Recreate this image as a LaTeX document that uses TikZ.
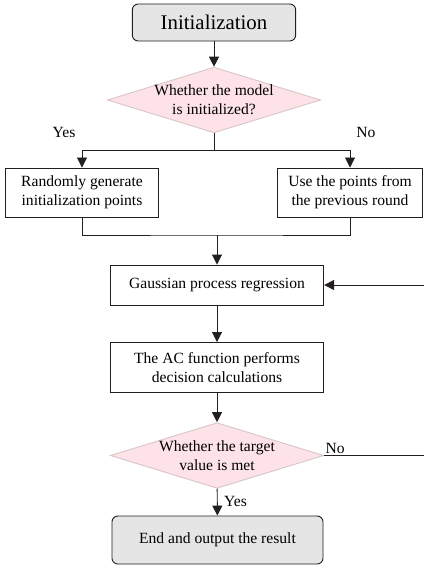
\documentclass[tikz,border=0pt]{standalone}
\usepackage{fontspec}
\setmainfont{Liberation Serif}
\usetikzlibrary{arrows.meta,shapes.geometric}

\definecolor{boxgray}{HTML}{E5E5E5}
\definecolor{decpink}{HTML}{FDE3E7}
\definecolor{decline}{HTML}{D8C6C9}
\definecolor{ink}{HTML}{231F20}

\begin{document}
\begin{tikzpicture}[x=0.03cm,y=-0.03cm,font=\fontsize{13.3}{16.5}\selectfont]
      \tikzset { step box/.style = { shape=rectangle,draw=ink,line width=0.8pt,align=center,inner sep=0pt } }
      \tikzset { term box/.style = { step box,rounded corners=5pt,fill=boxgray } }
      \tikzset { decision/.style = { shape=diamond,draw=decline,fill=decpink,line width=0.8pt,inner sep=0pt,minimum width=6.4cm,minimum height=1.97cm } }
      \tikzset { edge/.style = { -{Triangle[length=3mm,width=3mm]},draw=ink,line width=0.8pt } }
      \tikzset { link/.style = { draw=ink,line width=0.8pt } }

      \useasboundingbox (0,0) rectangle (423,565);

      \node[term box,minimum width=4.9cm,minimum height=1.11cm,font=\fontsize{17.8}{20}\selectfont] (init) at (214,22.5) {Initialization};
      \node[decision] (dec1) at (214,100) {};
      \node[align=center] (dec1txt) at (214,100) {Whether the model\\is initialized?};
      \node (yes1) at (64,132) {Yes};
      \node (no1) at (366,132) {No};
      \node[step box,minimum width=4.6cm,minimum height=1.47cm] (rand) at (82,192.5) {Randomly generate\\initialization points};
      \node[step box,minimum width=4.35cm,minimum height=1.47cm] (prev) at (350,192.5) {Use the points from\\the previous round};
      \node[step box,minimum width=6.4cm,minimum height=1.2cm] (gpr) at (217,285) {Gaussian process regression};
      \node[step box,minimum width=6.4cm,minimum height=1.5cm] (ac) at (217,367.5) {The AC function performs\\decision calculations};
      \node[decision] (dec2) at (217,455.5) {};
      \node[align=center] (dec2txt) at (217,455.5) {Whether the target\\value is met};
      \node[anchor=south west,inner sep=1pt] (no2) at (dec2.east) {No};
      \node[anchor=west] (yes2) at (220,501) {Yes};
      \node[term box,minimum width=6.33cm,minimum height=1.44cm] (done) at (217.5,540) {End and output the result};

      \coordinate (split) at (214,150);
      \coordinate (merge) at (217,235);
      \coordinate (back) at (426,455.5);

      \draw[edge] (init) to (dec1);
      \draw[link] (dec1) to (split);
      \draw[edge] (split) -| (rand.north);
      \draw[edge] (split) -| (prev.north);
      \draw[link] (rand.south) |- (merge) -| (prev.south);
      \draw[edge] (merge) to (gpr);
      \draw[edge] (gpr) to (ac);
      \draw[edge] (ac) to (dec2);
      \draw[edge] (dec2) to (done);
      \draw[edge] (dec2.east) -- (back) |- (gpr.east);

    \end{tikzpicture}
\end{document}
